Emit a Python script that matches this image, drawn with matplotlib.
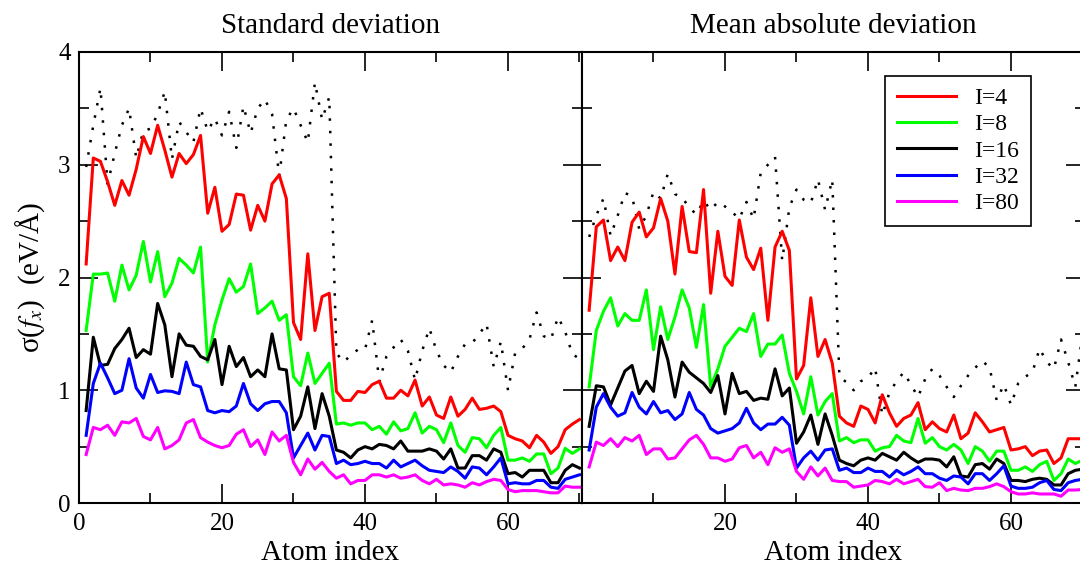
import numpy as np
import matplotlib
matplotlib.use('Agg')
import matplotlib.pyplot as plt
from matplotlib.ticker import MultipleLocator

plt.rcParams['font.family'] = ['Liberation Serif', 'DejaVu Serif']
plt.rcParams['mathtext.fontset'] = 'stix'

atoms = np.arange(1, 71)

labels = ['I=4', 'I=8', 'I=16', 'I=32', 'I=80']
colors = ['#ff0000', '#00ff00', '#000000', '#0000ff', '#ff00ff']

# standard deviation panel
sd_ref = [2.98, 3.35, 3.68, 2.83, 3.10, 3.35, 3.50, 3.06, 3.30, 3.32,
          3.45, 3.65, 3.05, 3.38, 3.29, 3.20, 3.50, 3.30, 3.41, 3.26,
          3.47, 3.15, 3.52, 3.28, 3.50, 3.58, 3.45, 2.90, 3.40, 3.50,
          3.35, 3.20, 3.73, 3.40, 3.60, 1.33, 1.25, 1.31, 1.36, 1.36,
          1.62, 1.08, 1.30, 1.38, 1.45, 1.35, 1.09, 1.35, 1.55, 1.35,
          1.22, 1.16, 1.30, 1.41, 1.42, 1.50, 1.59, 1.21, 1.43, 1.00,
          1.33, 1.37, 1.45, 1.69, 1.48, 1.45, 1.65, 1.52, 1.32, 1.28]
sd_i4 = [2.12, 3.06, 3.03, 2.85, 2.64, 2.86, 2.73, 2.96, 3.25, 3.10,
         3.35, 3.13, 2.89, 3.10, 3.01, 3.09, 3.26, 2.57, 2.80, 2.41,
         2.47, 2.74, 2.73, 2.42, 2.64, 2.50, 2.83, 2.91, 2.70, 1.60,
         1.45, 2.21, 1.53, 1.83, 1.86, 0.99, 0.91, 0.91, 0.99, 0.98,
         1.05, 1.08, 0.93, 0.93, 1.00, 0.95, 1.09, 0.86, 0.94, 0.78,
         0.75, 0.94, 0.77, 0.83, 0.93, 0.83, 0.84, 0.86, 0.81, 0.60,
         0.57, 0.55, 0.49, 0.60, 0.54, 0.44, 0.50, 0.65, 0.70, 0.74]
sd_i8 = [1.53, 2.03, 2.03, 2.04, 1.79, 2.11, 1.89, 2.02, 2.32, 1.96,
         2.23, 1.83, 1.95, 2.17, 2.11, 2.04, 2.27, 1.25, 1.58, 1.80,
         1.99, 1.87, 1.92, 2.12, 1.68, 1.73, 1.79, 1.62, 1.67, 1.12,
         1.04, 1.33, 1.06, 1.15, 1.24, 0.70, 0.71, 0.69, 0.71, 0.71,
         0.65, 0.68, 0.61, 0.72, 0.64, 0.66, 0.80, 0.62, 0.68, 0.65,
         0.535, 0.71, 0.51, 0.45, 0.58, 0.57, 0.49, 0.60, 0.67, 0.38,
         0.38, 0.40, 0.37, 0.435, 0.435, 0.26, 0.31, 0.485, 0.44, 0.48]
sd_i16 = [0.82, 1.47, 1.22, 1.23, 1.37, 1.45, 1.55, 1.29, 1.36, 1.32,
          1.77, 1.58, 1.12, 1.50, 1.40, 1.39, 1.30, 1.27, 1.45, 1.05,
          1.39, 1.21, 1.29, 1.12, 1.18, 1.12, 1.50, 1.19, 1.18, 0.65,
          0.77, 1.03, 0.66, 0.97, 0.77, 0.47, 0.45, 0.40, 0.47, 0.50,
          0.48, 0.52, 0.51, 0.48, 0.55, 0.46, 0.46, 0.46, 0.48, 0.46,
          0.39, 0.48, 0.31, 0.31, 0.42, 0.42, 0.38, 0.48, 0.45, 0.26,
          0.27, 0.23, 0.29, 0.29, 0.29, 0.18, 0.18, 0.29, 0.34, 0.31]
sd_i32 = [0.60, 1.06, 1.24, 1.11, 0.97, 1.00, 1.28, 1.02, 0.93, 1.14,
          0.98, 0.995, 0.99, 0.97, 1.25, 1.05, 1.03, 0.82, 0.80, 0.82,
          0.81, 0.86, 1.06, 0.88, 0.82, 0.88, 0.90, 0.90, 0.80, 0.40,
          0.51, 0.62, 0.47, 0.60, 0.59, 0.35, 0.38, 0.34, 0.35, 0.37,
          0.35, 0.35, 0.31, 0.38, 0.32, 0.35, 0.38, 0.33, 0.29, 0.28,
          0.27, 0.32, 0.28, 0.22, 0.32, 0.31, 0.25, 0.32, 0.40, 0.17,
          0.18, 0.17, 0.17, 0.20, 0.20, 0.14, 0.13, 0.21, 0.23, 0.25]
sd_i80 = [0.43, 0.67, 0.65, 0.69, 0.60, 0.72, 0.71, 0.75, 0.59, 0.56,
          0.67, 0.48, 0.51, 0.56, 0.71, 0.74, 0.58, 0.54, 0.51, 0.49,
          0.51, 0.61, 0.65, 0.50, 0.56, 0.43, 0.63, 0.55, 0.60, 0.36,
          0.25, 0.39, 0.30, 0.36, 0.28, 0.22, 0.25, 0.17, 0.20, 0.20,
          0.25, 0.25, 0.23, 0.25, 0.22, 0.23, 0.25, 0.20, 0.17, 0.21,
          0.16, 0.17, 0.16, 0.14, 0.18, 0.16, 0.19, 0.21, 0.20, 0.12,
          0.10, 0.11, 0.11, 0.11, 0.10, 0.09, 0.09, 0.15, 0.14, 0.14]

# mean absolute deviation panel
mad_ref = [2.36, 2.55, 2.70, 2.37, 2.55, 2.75, 2.72, 2.43, 2.55, 2.76,
           2.70, 2.92, 2.74, 2.71, 2.62, 2.56, 2.68, 2.60, 2.67, 2.63,
           2.58, 2.52, 2.67, 2.52, 2.93, 3.00, 3.07, 2.15, 2.62, 2.78,
           2.69, 2.66, 2.87, 2.60, 2.87, 1.12, 1.07, 1.00, 1.08, 1.11,
           1.20, 0.78, 0.98, 1.08, 1.16, 1.05, 0.94, 1.10, 1.19, 1.13,
           1.03, 0.94, 1.04, 1.13, 1.20, 1.26, 1.20, 0.91, 1.05, 0.87,
           1.06, 1.12, 1.16, 1.37, 1.25, 1.19, 1.45, 1.25, 1.03, 1.50]
mad_i4 = [1.71, 2.45, 2.51, 2.15, 2.27, 2.15, 2.49, 2.58, 2.36, 2.44,
          2.70, 2.50, 2.03, 2.63, 2.23, 2.22, 2.78, 1.86, 2.41, 2.01,
          1.93, 2.51, 2.18, 2.07, 2.26, 1.62, 2.27, 2.41, 2.24, 1.10,
          1.22, 1.82, 1.30, 1.45, 1.24, 0.77, 0.71, 0.68, 0.86, 0.83,
          0.71, 0.96, 0.80, 0.68, 0.75, 0.78, 0.89, 0.65, 0.72, 0.66,
          0.63, 0.78, 0.57, 0.62, 0.80, 0.72, 0.63, 0.65, 0.67, 0.47,
          0.48, 0.50, 0.42, 0.46, 0.47, 0.35, 0.40, 0.57, 0.57, 0.57]
mad_i8 = [1.03, 1.53, 1.70, 1.82, 1.57, 1.68, 1.62, 1.62, 1.89, 1.36,
          1.74, 1.45, 1.65, 1.89, 1.73, 1.38, 1.76, 1.03, 1.19, 1.39,
          1.47, 1.55, 1.52, 1.68, 1.30, 1.41, 1.41, 1.49, 1.15, 0.99,
          0.79, 1.12, 0.78, 0.90, 0.97, 0.55, 0.58, 0.535, 0.56, 0.56,
          0.46, 0.49, 0.50, 0.60, 0.55, 0.535, 0.75, 0.53, 0.58, 0.50,
          0.47, 0.52, 0.47, 0.35, 0.50, 0.46, 0.37, 0.46, 0.46, 0.29,
          0.29, 0.32, 0.28, 0.34, 0.37, 0.20, 0.26, 0.39, 0.35, 0.38]
mad_i16 = [0.68, 1.04, 1.03, 0.87, 1.02, 1.17, 1.22, 0.97, 1.08, 0.99,
           1.48, 1.27, 0.94, 1.25, 1.16, 1.11, 1.06, 0.98, 1.13, 0.79,
           1.15, 0.97, 0.99, 0.91, 0.93, 0.92, 1.19, 0.95, 1.02, 0.53,
           0.63, 0.78, 0.52, 0.79, 0.60, 0.38, 0.35, 0.33, 0.38, 0.40,
           0.38, 0.44, 0.41, 0.38, 0.45, 0.40, 0.36, 0.39, 0.39, 0.38,
           0.32, 0.41, 0.24, 0.23, 0.34, 0.35, 0.30, 0.39, 0.35, 0.20,
           0.20, 0.19, 0.21, 0.22, 0.21, 0.16, 0.16, 0.26, 0.29, 0.30]
mad_i32 = [0.47, 0.85, 0.97, 0.85, 0.77, 0.80, 0.98, 0.85, 0.79, 0.90,
           0.80, 0.82, 0.74, 0.79, 0.98, 0.83, 0.78, 0.66, 0.62, 0.64,
           0.66, 0.71, 0.84, 0.71, 0.65, 0.70, 0.70, 0.76, 0.69, 0.31,
           0.40, 0.46, 0.38, 0.47, 0.48, 0.29, 0.31, 0.27, 0.27, 0.31,
           0.28, 0.28, 0.23, 0.29, 0.25, 0.28, 0.32, 0.26, 0.26, 0.22,
           0.20, 0.24, 0.23, 0.17, 0.26, 0.26, 0.20, 0.26, 0.33, 0.15,
           0.13, 0.13, 0.14, 0.18, 0.20, 0.12, 0.11, 0.18, 0.20, 0.21]
mad_i80 = [0.32, 0.54, 0.51, 0.57, 0.50, 0.58, 0.55, 0.60, 0.43, 0.48,
           0.48, 0.39, 0.40, 0.48, 0.56, 0.60, 0.52, 0.40, 0.40, 0.37,
           0.39, 0.49, 0.51, 0.40, 0.45, 0.34, 0.49, 0.45, 0.48, 0.28,
           0.21, 0.32, 0.24, 0.31, 0.20, 0.19, 0.19, 0.14, 0.15, 0.16,
           0.20, 0.19, 0.17, 0.21, 0.17, 0.19, 0.21, 0.145, 0.14, 0.18,
           0.11, 0.13, 0.115, 0.11, 0.13, 0.13, 0.145, 0.17, 0.145, 0.10,
           0.08, 0.08, 0.09, 0.08, 0.08, 0.08, 0.06, 0.115, 0.115, 0.12]


def drawPanel(ax, ref, series, title):
    ax.plot(atoms, ref, color='black', lw=1.8, linestyle=(0, (1, 4)),
            dash_capstyle='butt')
    for vals, col, lab in zip(series, colors, labels):
        ax.plot(atoms, vals, color=col, lw=2.2, label=lab)

    ax.set_xlim(0, 70.35)
    ax.set_ylim(0, 4)
    ax.xaxis.set_major_locator(MultipleLocator(20))
    ax.xaxis.set_minor_locator(MultipleLocator(10))
    ax.yaxis.set_major_locator(MultipleLocator(1))
    ax.yaxis.set_minor_locator(MultipleLocator(0.5))
    ax.tick_params(which='both', direction='in', top=True, right=True,
                   width=1.2, labelsize=18)
    ax.tick_params(which='major', length=14)
    ax.tick_params(which='minor', length=7)
    ax.tick_params(axis='x', pad=7)
    ax.tick_params(axis='y', pad=6)
    for sp in ax.spines.values():
        sp.set_linewidth(1.5)
    ax.set_title(title, fontsize=21, pad=14)
    ax.set_xlabel('Atom index', fontsize=21, labelpad=4)


fig = plt.figure(figsize=(10.8, 5.65), dpi=100)
ax1 = fig.add_axes([79 / 1080, 62 / 565, 503 / 1080, 451 / 565])
ax2 = fig.add_axes([582 / 1080, 62 / 565, 503 / 1080, 451 / 565])

drawPanel(ax1, sd_ref, [sd_i4, sd_i8, sd_i16, sd_i32, sd_i80],
          'Standard deviation')
drawPanel(ax2, mad_ref, [mad_i4, mad_i8, mad_i16, mad_i32, mad_i80],
          'Mean absolute deviation')

ax1.set_ylabel('σ($f_x$)  (eV/Å)', fontsize=21, labelpad=8)
ax2.set_yticklabels([])
ax2.set_xticks([0, 20, 40, 60])
ax2.set_xticklabels(['', '20', '40', '60'])

leg = ax2.legend(loc='upper left', bbox_to_anchor=(0.602, 0.947),
                 fontsize=17, fancybox=False, edgecolor='black',
                 framealpha=1, borderaxespad=0, handlelength=2.5,
                 handletextpad=0.8, labelspacing=0.2, borderpad=0.5)
leg.get_frame().set_linewidth(1.2)

fig.savefig('out.png', dpi=100)
